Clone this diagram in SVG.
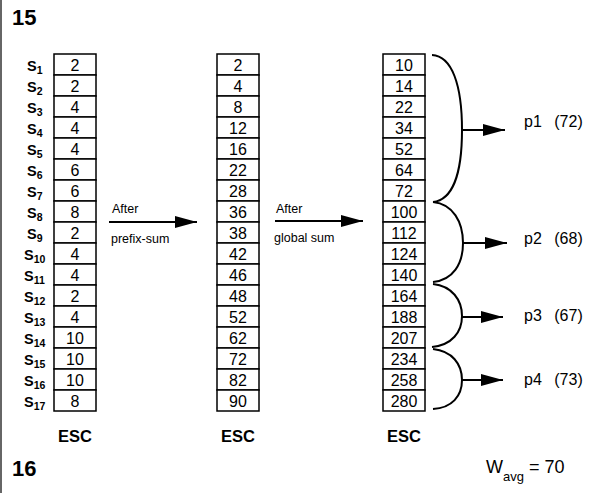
<svg xmlns="http://www.w3.org/2000/svg" width="596" height="493" viewBox="0 0 596 493">
<style>
text{font-family:"Liberation Sans",Arial,Helvetica,sans-serif;fill:#000}
.cell{fill:#fff;stroke:#000;stroke-width:1.5}
.num{font-size:16px;text-anchor:middle}
.s{font-size:14.5px;font-weight:bold}
.sub{font-size:10.5px}
.esc{font-size:16.5px;font-weight:bold;text-anchor:middle}
.big{font-size:22px;font-weight:bold}
.lbl{font-size:12.5px}
.p{font-size:16px}
.arr{stroke:#000;stroke-width:2;fill:none}
.brace{stroke:#000;stroke-width:2;fill:none}
</style>
<defs>
<marker id="ah" markerUnits="userSpaceOnUse" markerWidth="22" markerHeight="12" refX="22" refY="6" orient="auto"><path d="M0,0 L22,6 L0,12 z" fill="#000"/></marker>
</defs>
<rect width="596" height="493" fill="#fff"/>
<line x1="1" y1="0" x2="1" y2="493" stroke="#333" stroke-width="1.5"/>
<g id="title15"><text class="big" x="12" y="25">15</text></g>
<g id="title16"><text class="big" x="12" y="476">16</text></g>
<g id="wavg"><text x="486" y="473" font-size="18">W<tspan font-size="13" dy="8">avg</tspan><tspan dy="-8"> = 70</tspan></text></g>
<g id="slabels" class="s">
<text x="27" y="70.5">S<tspan class="sub" dy="3">1</tspan></text>
<text x="27" y="91.5">S<tspan class="sub" dy="3">2</tspan></text>
<text x="27" y="112.5">S<tspan class="sub" dy="3">3</tspan></text>
<text x="27" y="133.5">S<tspan class="sub" dy="3">4</tspan></text>
<text x="27" y="154.5">S<tspan class="sub" dy="3">5</tspan></text>
<text x="27" y="175.5">S<tspan class="sub" dy="3">6</tspan></text>
<text x="27" y="196.5">S<tspan class="sub" dy="3">7</tspan></text>
<text x="27" y="217.5">S<tspan class="sub" dy="3">8</tspan></text>
<text x="27" y="238.5">S<tspan class="sub" dy="3">9</tspan></text>
<text x="24" y="259.5">S<tspan class="sub" dy="3">10</tspan></text>
<text x="24" y="280.5">S<tspan class="sub" dy="3">11</tspan></text>
<text x="24" y="301.5">S<tspan class="sub" dy="3">12</tspan></text>
<text x="24" y="322.5">S<tspan class="sub" dy="3">13</tspan></text>
<text x="24" y="343.5">S<tspan class="sub" dy="3">14</tspan></text>
<text x="24" y="364.5">S<tspan class="sub" dy="3">15</tspan></text>
<text x="24" y="385.5">S<tspan class="sub" dy="3">16</tspan></text>
<text x="24" y="406.5">S<tspan class="sub" dy="3">17</tspan></text>
</g>
<g id="array1">
<rect class="cell" x="54" y="54" width="42" height="21"/><rect class="cell" x="54" y="75" width="42" height="21"/><rect class="cell" x="54" y="96" width="42" height="21"/><rect class="cell" x="54" y="117" width="42" height="21"/><rect class="cell" x="54" y="138" width="42" height="21"/><rect class="cell" x="54" y="159" width="42" height="21"/><rect class="cell" x="54" y="180" width="42" height="21"/><rect class="cell" x="54" y="201" width="42" height="21"/><rect class="cell" x="54" y="222" width="42" height="21"/><rect class="cell" x="54" y="243" width="42" height="21"/><rect class="cell" x="54" y="264" width="42" height="21"/><rect class="cell" x="54" y="285" width="42" height="21"/><rect class="cell" x="54" y="306" width="42" height="21"/><rect class="cell" x="54" y="327" width="42" height="21"/><rect class="cell" x="54" y="348" width="42" height="21"/><rect class="cell" x="54" y="369" width="42" height="21"/><rect class="cell" x="54" y="390" width="42" height="21"/>
<g class="num">
<text x="75" y="70.5">2</text><text x="75" y="91.5">2</text><text x="75" y="112.5">4</text><text x="75" y="133.5">4</text><text x="75" y="154.5">4</text><text x="75" y="175.5">6</text><text x="75" y="196.5">6</text><text x="75" y="217.5">8</text><text x="75" y="238.5">2</text><text x="75" y="259.5">4</text><text x="75" y="280.5">4</text><text x="75" y="301.5">2</text><text x="75" y="322.5">4</text><text x="75" y="343.5">10</text><text x="75" y="364.5">10</text><text x="75" y="385.5">10</text><text x="75" y="406.5">8</text>
</g>
<text class="esc" x="75" y="442">ESC</text>
</g>
<g id="array2">
<rect class="cell" x="217" y="54" width="42" height="21"/><rect class="cell" x="217" y="75" width="42" height="21"/><rect class="cell" x="217" y="96" width="42" height="21"/><rect class="cell" x="217" y="117" width="42" height="21"/><rect class="cell" x="217" y="138" width="42" height="21"/><rect class="cell" x="217" y="159" width="42" height="21"/><rect class="cell" x="217" y="180" width="42" height="21"/><rect class="cell" x="217" y="201" width="42" height="21"/><rect class="cell" x="217" y="222" width="42" height="21"/><rect class="cell" x="217" y="243" width="42" height="21"/><rect class="cell" x="217" y="264" width="42" height="21"/><rect class="cell" x="217" y="285" width="42" height="21"/><rect class="cell" x="217" y="306" width="42" height="21"/><rect class="cell" x="217" y="327" width="42" height="21"/><rect class="cell" x="217" y="348" width="42" height="21"/><rect class="cell" x="217" y="369" width="42" height="21"/><rect class="cell" x="217" y="390" width="42" height="21"/>
<g class="num">
<text x="238" y="70.5">2</text><text x="238" y="91.5">4</text><text x="238" y="112.5">8</text><text x="238" y="133.5">12</text><text x="238" y="154.5">16</text><text x="238" y="175.5">22</text><text x="238" y="196.5">28</text><text x="238" y="217.5">36</text><text x="238" y="238.5">38</text><text x="238" y="259.5">42</text><text x="238" y="280.5">46</text><text x="238" y="301.5">48</text><text x="238" y="322.5">52</text><text x="238" y="343.5">62</text><text x="238" y="364.5">72</text><text x="238" y="385.5">82</text><text x="238" y="406.5">90</text>
</g>
<text class="esc" x="238" y="442">ESC</text>
</g>
<g id="array3">
<rect class="cell" x="383" y="54" width="42" height="21"/><rect class="cell" x="383" y="75" width="42" height="21"/><rect class="cell" x="383" y="96" width="42" height="21"/><rect class="cell" x="383" y="117" width="42" height="21"/><rect class="cell" x="383" y="138" width="42" height="21"/><rect class="cell" x="383" y="159" width="42" height="21"/><rect class="cell" x="383" y="180" width="42" height="21"/><rect class="cell" x="383" y="201" width="42" height="21"/><rect class="cell" x="383" y="222" width="42" height="21"/><rect class="cell" x="383" y="243" width="42" height="21"/><rect class="cell" x="383" y="264" width="42" height="21"/><rect class="cell" x="383" y="285" width="42" height="21"/><rect class="cell" x="383" y="306" width="42" height="21"/><rect class="cell" x="383" y="327" width="42" height="21"/><rect class="cell" x="383" y="348" width="42" height="21"/><rect class="cell" x="383" y="369" width="42" height="21"/><rect class="cell" x="383" y="390" width="42" height="21"/>
<g class="num">
<text x="404" y="70.5">10</text><text x="404" y="91.5">14</text><text x="404" y="112.5">22</text><text x="404" y="133.5">34</text><text x="404" y="154.5">52</text><text x="404" y="175.5">64</text><text x="404" y="196.5">72</text><text x="404" y="217.5">100</text><text x="404" y="238.5">112</text><text x="404" y="259.5">124</text><text x="404" y="280.5">140</text><text x="404" y="301.5">164</text><text x="404" y="322.5">188</text><text x="404" y="343.5">207</text><text x="404" y="364.5">234</text><text x="404" y="385.5">258</text><text x="404" y="406.5">280</text>
</g>
<text class="esc" x="404" y="442">ESC</text>
</g>
<g id="p1"><text class="p" x="524" y="127">p1 <tspan dx="8">(72)</tspan></text></g>
<g id="p2"><text class="p" x="524" y="244">p2 <tspan dx="8">(68)</tspan></text></g>
<g id="p3"><text class="p" x="524" y="321">p3 <tspan dx="8">(67)</tspan></text></g>
<g id="p4"><text class="p" x="524" y="385">p4 <tspan dx="8">(73)</tspan></text></g>
<g id="connectors">
<line class="arr" x1="109" y1="222" x2="197" y2="222" marker-end="url(#ah)"/>
<text class="lbl" x="112" y="213">After</text>
<text class="lbl" x="111" y="243">prefix-sum</text>
<line class="arr" x1="275" y1="221" x2="363" y2="221" marker-end="url(#ah)"/>
<text class="lbl" x="276" y="213">After</text>
<text class="lbl" x="274" y="242">global sum</text>
<path class="brace" d="M432,55 C452,56 462,85 462,130 C462,175 452,200 433,202"/>
<path class="brace" d="M433,202 C453,204 463,222 463,243 C463,264 453,280 433,282"/>
<path class="brace" d="M433,284 C452,286 462,300 462,316 C462,332 452,345 432,347"/>
<path class="brace" d="M433,349 C452,351 462,364 462,380 C462,396 452,408 433,409"/>
<line class="arr" x1="462" y1="130" x2="505" y2="130" marker-end="url(#ah)"/>
<line class="arr" x1="463" y1="243" x2="507" y2="243" marker-end="url(#ah)"/>
<line class="arr" x1="462" y1="317" x2="503" y2="317" marker-end="url(#ah)"/>
<line class="arr" x1="462" y1="380" x2="503" y2="380" marker-end="url(#ah)"/>
</g>
</svg>
